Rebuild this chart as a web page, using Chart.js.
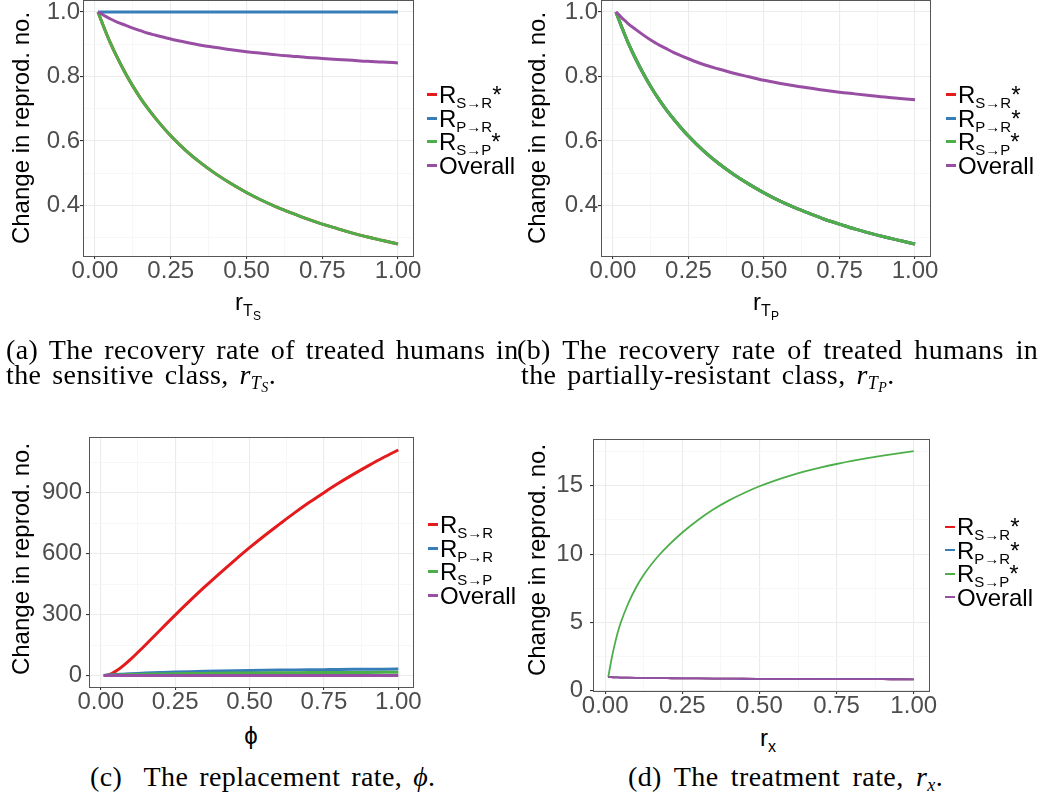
<!DOCTYPE html>
<html>
<head>
<meta charset="utf-8">
<script src="https://cdn.jsdelivr.net/npm/chart.js@4"></script>
<style>
body{margin:0;width:1038px;height:801px;overflow:hidden;background:#fff;position:relative;font-family:"Liberation Sans",Arial,sans-serif;color:#000}
canvas{position:absolute}
.ytitle{position:absolute;font-size:24px;white-space:nowrap;transform:translate(-50%,-50%) rotate(-90deg)}
.xtitle{position:absolute;font-size:24px;white-space:nowrap;transform:translate(-50%,-50%)}
.xtitle sub{font-size:16px;vertical-align:-6px;line-height:0}
.xtitle sub sub{font-size:12px;vertical-align:-4px}
.legend{position:absolute;font-size:24px}
.legend div{position:relative;height:23.5px;line-height:23.5px;white-space:nowrap;padding-left:12px}
.legend .key{position:absolute;left:0;top:10px;width:10px;height:3px}
.legend sub{font-size:15px;vertical-align:-5px;line-height:0}
.cap{position:absolute;font-family:"Liberation Serif","Times New Roman",serif;font-size:28px;letter-spacing:0.4px;word-spacing:3.5px;white-space:nowrap;line-height:25px}
.cap sub{font-size:18px;vertical-align:-5px;line-height:0}
.cap sub sub{font-size:14px;vertical-align:-3px}
</style>
</head>
<body>
<canvas id="pa" width="440" height="304" style="left:0;top:-14px"></canvas>
<canvas id="pb" width="440" height="304" style="left:520px;top:-14px"></canvas>
<canvas id="pc" width="440" height="300" style="left:0;top:419px"></canvas>
<canvas id="pd" width="440" height="300" style="left:520px;top:418px"></canvas>

<div class="ytitle" style="left:21px;top:128px">Change in reprod. no.</div>
<div class="ytitle" style="left:537px;top:128px">Change in reprod. no.</div>
<div class="ytitle" style="left:21px;top:559px">Change in reprod. no.</div>
<div class="ytitle" style="left:537px;top:560px">Change in reprod. no.</div>

<div class="xtitle" style="left:248px;top:302px">r<sub>T<sub>S</sub></sub></div>
<div class="xtitle" style="left:766px;top:302px">r<sub>T<sub>P</sub></sub></div>
<div class="xtitle" style="left:251px;top:736px">ϕ</div>
<div class="xtitle" style="left:768px;top:738px">r<sub>x</sub></div>

<div class="legend" id="lega" style="left:427px;top:83px"></div>
<div class="legend" id="legb" style="left:946px;top:83px"></div>
<div class="legend" id="legc" style="left:428px;top:513px"></div>
<div class="legend" id="legd" style="left:945px;top:515px"></div>

<div class="cap" style="left:6px;top:337px">(a) The recovery rate of treated humans in</div>
<div class="cap" style="left:6px;top:362px">the sensitive class, <i>r</i><sub><i>T</i><sub><i>S</i></sub></sub>.</div>
<div class="cap" style="left:517px;top:337px;word-spacing:4.5px">(b) The recovery rate of treated humans in</div>
<div class="cap" style="left:521px;top:362px">the partially-resistant class, <i>r</i><sub><i>T</i><sub><i>P</i></sub></sub>.</div>
<div class="cap" style="left:90px;top:764px">(c)&nbsp; The replacement rate, <i>ϕ</i>.</div>
<div class="cap" style="left:628px;top:764px;word-spacing:5px">(d) The treatment rate, <i>r<sub>x</sub></i>.</div>

<script>
// x values shared by all four panels
const rate = [0.01, 0.02, 0.03, 0.04, 0.05, 0.075, 0.1, 0.125, 0.15, 0.175, 0.2, 0.25, 0.3, 0.35, 0.4, 0.45, 0.5, 0.55, 0.6, 0.65, 0.7, 0.75, 0.8, 0.85, 0.9, 0.95, 1.0];

// (a) recovery rate, sensitive class
const aRed    = [1.0, 0.975, 0.951, 0.928, 0.906, 0.856, 0.811, 0.770, 0.733, 0.700, 0.670, 0.616, 0.570, 0.531, 0.497, 0.467, 0.440, 0.416, 0.395, 0.376, 0.358, 0.342, 0.328, 0.314, 0.302, 0.291, 0.280];
const aBlue   = [1, 1, 1, 1, 1, 1, 1, 1, 1, 1, 1, 1, 1, 1, 1, 1, 1, 1, 1, 1, 1, 1, 1, 1, 1, 1, 1];
const aGreen  = [1.0, 0.975, 0.951, 0.928, 0.906, 0.856, 0.811, 0.770, 0.733, 0.700, 0.670, 0.616, 0.570, 0.531, 0.497, 0.467, 0.440, 0.416, 0.395, 0.376, 0.358, 0.342, 0.328, 0.314, 0.302, 0.291, 0.280];
const aPurple = [1.0, 0.995, 0.989, 0.984, 0.979, 0.968, 0.959, 0.950, 0.942, 0.934, 0.928, 0.916, 0.906, 0.897, 0.890, 0.883, 0.877, 0.872, 0.867, 0.863, 0.859, 0.856, 0.853, 0.850, 0.847, 0.845, 0.842];

// (b) recovery rate, partially-resistant class
const bRed    = [1.0, 0.975, 0.951, 0.928, 0.905, 0.855, 0.810, 0.769, 0.732, 0.699, 0.669, 0.615, 0.569, 0.530, 0.496, 0.466, 0.439, 0.415, 0.394, 0.375, 0.357, 0.342, 0.327, 0.314, 0.302, 0.291, 0.280];
const bBlue   = [1.0, 0.975, 0.951, 0.928, 0.905, 0.855, 0.810, 0.769, 0.732, 0.699, 0.669, 0.615, 0.569, 0.530, 0.496, 0.466, 0.439, 0.415, 0.394, 0.375, 0.357, 0.342, 0.327, 0.314, 0.302, 0.291, 0.280];
const bGreen  = [1.0, 0.975, 0.951, 0.928, 0.905, 0.855, 0.810, 0.769, 0.732, 0.699, 0.669, 0.615, 0.569, 0.530, 0.496, 0.466, 0.439, 0.415, 0.394, 0.375, 0.357, 0.342, 0.327, 0.314, 0.302, 0.291, 0.280];
const bPurple = [1.0, 0.991, 0.981, 0.973, 0.964, 0.946, 0.929, 0.913, 0.899, 0.887, 0.875, 0.855, 0.837, 0.823, 0.810, 0.799, 0.788, 0.779, 0.771, 0.764, 0.757, 0.751, 0.746, 0.741, 0.736, 0.732, 0.728];

// (c) replacement rate
const cRed    = [0.5, 2, 6, 12.5, 21, 48, 80, 115, 151, 188, 225, 298, 369, 438, 504, 568, 630, 689, 745, 800, 852, 901, 948, 992, 1034, 1074, 1111];
const cBlue   = [1, 2, 3, 4, 5, 7, 9, 10.8, 12.4, 13.8, 15, 17.3, 19.3, 21, 22.5, 23.8, 25, 26.1, 27.1, 28, 28.8, 29.5, 30.2, 30.8, 31.3, 31.8, 32.2];
const cGreen  = [1, 1.5, 2, 2.5, 3, 4, 5, 5.9, 6.7, 7.4, 8, 9.1, 10.1, 10.9, 11.7, 12.4, 13, 13.5, 14, 14.4, 14.8, 15.1, 15.4, 15.7, 16, 16.2, 16.4];
const cPurple = [1, 1, 1, 1, 1, 1, 1, 0.99, 0.99, 0.98, 0.98, 0.97, 0.96, 0.95, 0.94, 0.93, 0.92, 0.91, 0.9, 0.9, 0.89, 0.88, 0.88, 0.87, 0.87, 0.86, 0.86];

// (d) treatment rate
const dRed    = [1.0, 0.99, 0.98, 0.972, 0.965, 0.952, 0.942, 0.934, 0.927, 0.92, 0.915, 0.905, 0.897, 0.89, 0.884, 0.878, 0.873, 0.868, 0.864, 0.86, 0.856, 0.852, 0.849, 0.846, 0.843, 0.84, 0.837];
const dBlue   = [1.0, 0.99, 0.98, 0.972, 0.965, 0.952, 0.942, 0.934, 0.927, 0.92, 0.915, 0.905, 0.897, 0.89, 0.884, 0.878, 0.873, 0.868, 0.864, 0.86, 0.856, 0.852, 0.849, 0.846, 0.843, 0.84, 0.837];
const dGreen  = [1.0, 2.25, 3.3, 4.2, 4.95, 6.4, 7.55, 8.48, 9.25, 9.93, 10.53, 11.58, 12.48, 13.26, 13.91, 14.47, 14.96, 15.38, 15.74, 16.06, 16.34, 16.59, 16.82, 17.02, 17.2, 17.37, 17.53];
const dPurple = [1.0, 0.99, 0.98, 0.972, 0.965, 0.952, 0.942, 0.934, 0.927, 0.92, 0.915, 0.905, 0.897, 0.89, 0.884, 0.878, 0.873, 0.868, 0.864, 0.86, 0.856, 0.852, 0.849, 0.846, 0.843, 0.84, 0.837];

// ticks (major ones get labels, the rest are minor grid lines)
const xTicks = [0, 0.125, 0.25, 0.375, 0.5, 0.625, 0.75, 0.875, 1];
const xMajor = [0, 0.25, 0.5, 0.75, 1];
const abTicks = [0.3, 0.4, 0.5, 0.6, 0.7, 0.8, 0.9, 1.0];
const abMajor = [0.4, 0.6, 0.8, 1.0];
const cTicks = [0, 150, 300, 450, 600, 750, 900, 1050];
const cMajor = [0, 300, 600, 900];
const dTicks = [0, 2.5, 5, 7.5, 10, 12.5, 15, 17.5];
const dMajor = [0, 5, 10, 15];

const colors = {red: '#E41A1C', blue: '#377EB8', green: '#4DAF4A', purple: '#984EA3'};
const seriesNames = ['S→R', 'P→R', 'S→P'];

const frame = {
    id: 'frame',
    afterDatasetsDraw(chart){
        const a = chart.chartArea;
        const c = chart.ctx;
        c.save();
        c.strokeStyle = '#555';
        c.lineWidth = 1;
        c.strokeRect(Math.round(a.left) + 0.5, Math.round(a.top) + 0.5, Math.round(a.right - a.left), Math.round(a.bottom - a.top));
        c.restore();
    }
};

function isIn(list, v){
    return list.some(m => Math.abs(m - v) < 1e-9);
}

function gridFor(major){
    return {
        color: c => isIn(major, c.tick.value) ? '#ebebeb' : '#f3f3f3',
        lineWidth: c => isIn(major, c.tick.value) ? 1.1 : 0.7,
        tickColor: c => isIn(major, c.tick.value) ? '#333' : 'rgba(0,0,0,0)',
        tickLength: 3
    };
}

function makePanel(id, p){
    // purple first so it is drawn on top, red last (underneath)
    const datasets = [
        {data: p.purple, borderColor: colors.purple},
        {data: p.green, borderColor: colors.green},
        {data: p.blue, borderColor: colors.blue},
        {data: p.red, borderColor: colors.red}
    ].map(d => ({
        data: rate.map((x, i) => ({x: x, y: d.data[i]})),
        borderColor: d.borderColor,
        borderWidth: p.lw,
        pointRadius: 0,
        fill: false,
        cubicInterpolationMode: 'monotone'
    }));

    new Chart(document.getElementById(id), {
        type: 'line',
        data: {datasets: datasets},
        plugins: [frame],
        options: {
            responsive: false,
            animation: false,
            layout: {padding: {top: p.top, right: p.right, left: 0, bottom: 0}},
            plugins: {legend: {display: false}, tooltip: {enabled: false}},
            scales: {
                x: {
                    type: 'linear',
                    min: -0.0395,
                    max: 1.0495,
                    afterBuildTicks: s => { s.ticks = xTicks.map(v => ({value: v})); },
                    afterFit: s => { s.height = p.xh; },
                    border: {display: false},
                    grid: gridFor(xMajor),
                    ticks: {
                        autoSkip: false,
                        maxRotation: 0,
                        padding: 0,
                        color: '#4d4d4d',
                        font: {family: 'Liberation Sans', size: 24, lineHeight: 1},
                        callback: v => isIn(xMajor, v) ? v.toFixed(2) : ''
                    }
                },
                y: {
                    min: p.ymin,
                    max: p.ymax,
                    afterBuildTicks: s => { s.ticks = p.yTicks.map(v => ({value: v})); },
                    afterFit: s => { s.width = p.yw; },
                    border: {display: false},
                    grid: gridFor(p.yMajor),
                    ticks: {
                        autoSkip: false,
                        padding: p.ypad,
                        color: '#4d4d4d',
                        font: {family: 'Liberation Sans', size: 24},
                        callback: v => isIn(p.yMajor, v) ? p.fmt(v) : ''
                    }
                }
            }
        }
    });
}

function makeLegend(id, stars, lw){
    const el = document.getElementById(id);
    const rows = [
        [colors.red, 'R<sub>' + seriesNames[0] + '</sub>' + (stars[0] ? '*' : '')],
        [colors.blue, 'R<sub>' + seriesNames[1] + '</sub>' + (stars[1] ? '*' : '')],
        [colors.green, 'R<sub>' + seriesNames[2] + '</sub>' + (stars[2] ? '*' : '')],
        [colors.purple, 'Overall']
    ];
    for (let i = 0; i < rows.length; i++){
        const row = document.createElement('div');
        row.innerHTML = '<span class="key" style="background:' + rows[i][0] + ';height:' + lw + 'px;top:' + (11.5 - lw / 2) + 'px"></span>' + rows[i][1];
        el.appendChild(row);
    }
}

makePanel('pa', {red: aRed, blue: aBlue, green: aGreen, purple: aPurple, lw: 3,
    top: 12, right: 27, xh: 34, yw: 83, ypad: 0, ymin: 0.243, ymax: 1.036,
    yTicks: abTicks, yMajor: abMajor, fmt: v => v.toFixed(1)});
makePanel('pb', {red: bRed, blue: bBlue, green: bGreen, purple: bPurple, lw: 3,
    top: 12, right: 30, xh: 34, yw: 81, ypad: 0, ymin: 0.243, ymax: 1.036,
    yTicks: abTicks, yMajor: abMajor, fmt: v => v.toFixed(1)});
makePanel('pc', {red: cRed, blue: cBlue, green: cGreen, purple: cPurple, lw: 3,
    top: 12, right: 27, xh: 32, yw: 89, ypad: 4, ymin: -56, ymax: 1173,
    yTicks: cTicks, yMajor: cMajor, fmt: v => String(v)});
makePanel('pd', {red: dRed, blue: dBlue, green: dGreen, purple: dPurple, lw: 1.8,
    top: 12, right: 31, xh: 27, yw: 73, ypad: 7, ymin: -0.02, ymax: 18.39,
    yTicks: dTicks, yMajor: dMajor, fmt: v => String(v)});

makeLegend('lega', [true, false, true], 3);
makeLegend('legb', [true, true, true], 3);
makeLegend('legc', [false, false, false], 3);
makeLegend('legd', [true, true, true], 2);
</script>
</body>
</html>
